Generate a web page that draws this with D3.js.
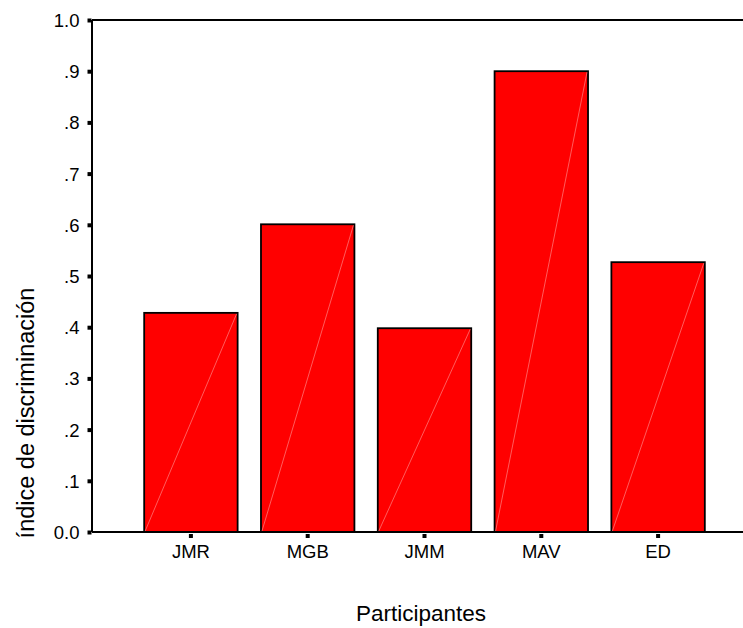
<!DOCTYPE html>
<html>
<head>
<meta charset="utf-8">
<script src="https://cdn.jsdelivr.net/npm/d3@7"></script>
<style>
body{margin:0;background:#fff;}
svg text{font-family:"Liberation Sans", Arial, sans-serif;fill:#000;}
</style>
</head>
<body>
<svg id="c" width="743" height="628"></svg>
<script>
const categories = ["JMR","MGB","JMM","MAV","ED"];
const values = [0.428, 0.601, 0.398, 0.900, 0.527];
const yTicks = [0,0.1,0.2,0.3,0.4,0.5,0.6,0.7,0.8,0.9,1.0];
const yTickLabels = ["0.0",".1",".2",".3",".4",".5",".6",".7",".8",".9","1.0"];
const xTitle = "Participantes";
const yTitle = "índice de discriminación";

const svg = d3.select("#c");
const axisX = 92, baseY = 532, topY = 20;
const x = d3.scaleBand().domain(categories).range([132.5, 716.5]).paddingInner(0.2).paddingOuter(0.1);
const y = d3.scaleLinear().domain([0,1]).range([baseY, topY]);

// bars
const g = svg.append("g");
categories.forEach((c,i)=>{
  const x0 = x(c), w = x.bandwidth(), y0 = y(values[i]);
  g.append("rect").attr("x",x0).attr("y",y0).attr("width",w).attr("height",baseY-y0)
    .attr("fill","#ff0000").attr("stroke","#000").attr("stroke-width",1.8);
  g.append("line").attr("x1",x0+1).attr("y1",baseY-1).attr("x2",x0+w-1).attr("y2",y0+1)
    .attr("stroke","#ff9a9a").attr("stroke-width",0.6);
});

// frame lines
svg.append("line").attr("x1",axisX).attr("x2",743).attr("y1",topY).attr("y2",topY).attr("stroke","#000").attr("stroke-width",2);
svg.append("line").attr("x1",axisX).attr("x2",743).attr("y1",baseY).attr("y2",baseY).attr("stroke","#000").attr("stroke-width",2);
svg.append("line").attr("x1",axisX).attr("x2",axisX).attr("y1",topY).attr("y2",baseY).attr("stroke","#000").attr("stroke-width",2);

// y axis via d3
const yAxis = d3.axisLeft(y).tickValues(yTicks).tickFormat((d,i)=>yTickLabels[i]).tickSize(4).tickPadding(8);
const ya = svg.append("g").attr("transform",`translate(${axisX-0.5},0)`).call(yAxis);
ya.select(".domain").remove();
ya.selectAll(".tick line").attr("stroke","#000").attr("stroke-width",4);
ya.selectAll(".tick text").attr("font-size",18.5).attr("font-family","Liberation Sans, Arial, sans-serif").attr("fill","#000").attr("dy","0.35em");

// x axis via d3
const xAxis = d3.axisBottom(x).tickSize(0).tickPadding(13);
const xa = svg.append("g").attr("transform",`translate(0,${baseY})`).call(xAxis);
xa.select(".domain").remove();
xa.selectAll(".tick").append("rect").attr("x",-2).attr("y",2).attr("width",4).attr("height",4).attr("fill","#000");
xa.selectAll(".tick text").attr("font-size",18.5).attr("font-family","Liberation Sans, Arial, sans-serif").attr("fill","#000");

// titles
svg.append("text").attr("x",421).attr("y",621).attr("text-anchor","middle").attr("font-size",22.5).text(xTitle);
svg.append("text").attr("transform","translate(34,413) rotate(-90)").attr("text-anchor","middle").attr("font-size",23.5).text(yTitle);
</script>
</body>
</html>
